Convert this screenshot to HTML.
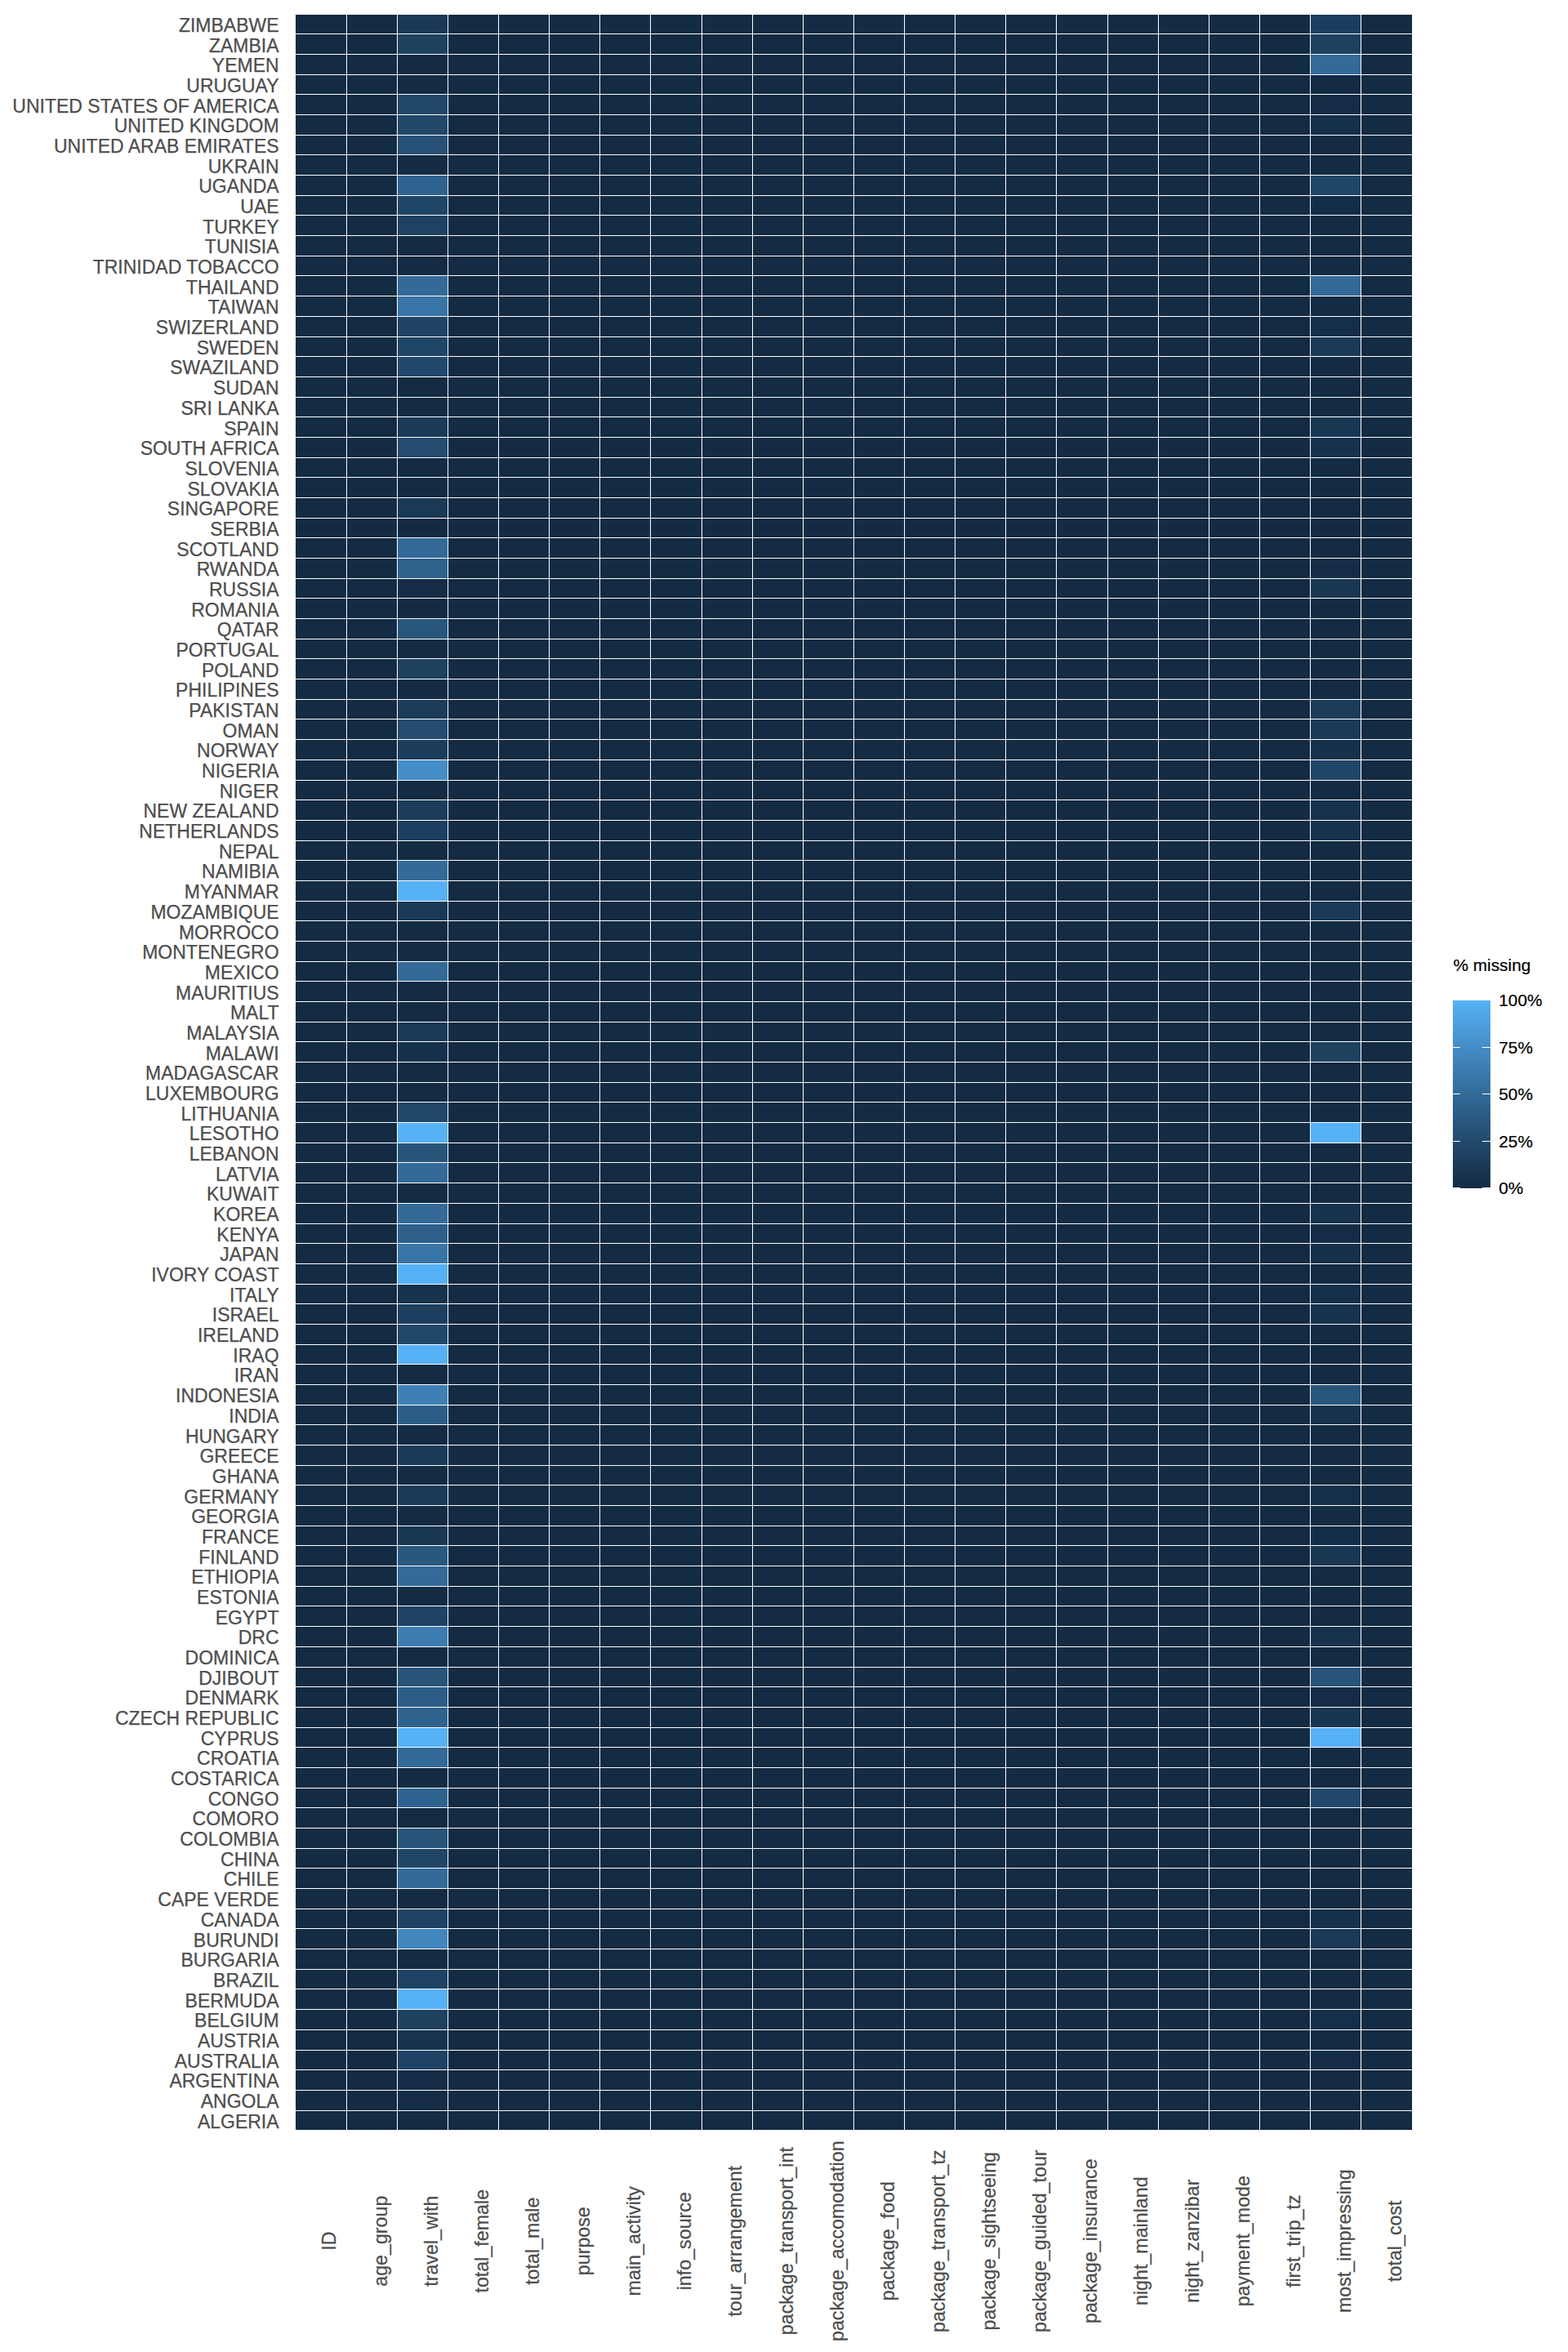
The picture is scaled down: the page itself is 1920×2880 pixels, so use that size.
<!DOCTYPE html>
<html lang="en"><head><meta charset="utf-8"><title>% missing by country</title>
<style>html,body{margin:0;padding:0;background:#fff}svg{display:block}text{font-family:"Liberation Sans",Arial,sans-serif}.y{font-size:23px;fill:#4D4D4D;text-anchor:end;stroke:#4D4D4D;stroke-width:.25px}.x{font-size:23.25px;fill:#4D4D4D;text-anchor:middle;stroke:#4D4D4D;stroke-width:.25px}.l{font-size:20.8px;fill:#000;stroke:#000;stroke-width:.2px}</style></head><body>
<svg width="1920" height="2880" viewBox="0 0 1920 2880">
<rect width="1920" height="2880" fill="#fff"/>
<rect x="362" y="18" width="1367" height="2590" fill="#132B43"/>
<g>
<rect x="486" y="18" width="62" height="23" fill="#1A3855"/>
<rect x="1604" y="18" width="62" height="23" fill="#1D3F5F"/>
<rect x="486" y="41" width="62" height="25" fill="#1E4160"/>
<rect x="1604" y="41" width="62" height="25" fill="#1E4160"/>
<rect x="1604" y="66" width="62" height="25" fill="#336A98"/>
<rect x="486" y="115" width="62" height="25" fill="#214769"/>
<rect x="1604" y="115" width="62" height="25" fill="#142C45"/>
<rect x="486" y="140" width="62" height="25" fill="#22486A"/>
<rect x="1604" y="140" width="62" height="25" fill="#153049"/>
<rect x="486" y="165" width="62" height="24" fill="#265075"/>
<rect x="486" y="214" width="62" height="25" fill="#2F638F"/>
<rect x="1604" y="214" width="62" height="25" fill="#204667"/>
<rect x="486" y="239" width="62" height="24" fill="#204667"/>
<rect x="1604" y="239" width="62" height="24" fill="#142D46"/>
<rect x="486" y="263" width="62" height="25" fill="#1F4262"/>
<rect x="486" y="337" width="62" height="25" fill="#336A98"/>
<rect x="1604" y="337" width="62" height="25" fill="#336A98"/>
<rect x="486" y="362" width="62" height="25" fill="#3874A5"/>
<rect x="486" y="387" width="62" height="25" fill="#204465"/>
<rect x="1604" y="387" width="62" height="25" fill="#152F48"/>
<rect x="486" y="412" width="62" height="24" fill="#204667"/>
<rect x="1604" y="412" width="62" height="24" fill="#1B3A58"/>
<rect x="486" y="436" width="62" height="25" fill="#22496C"/>
<rect x="486" y="510" width="62" height="25" fill="#1B3A58"/>
<rect x="1604" y="510" width="62" height="25" fill="#193753"/>
<rect x="486" y="535" width="62" height="25" fill="#244C6F"/>
<rect x="1604" y="535" width="62" height="25" fill="#17324D"/>
<rect x="486" y="609" width="62" height="25" fill="#1A3956"/>
<rect x="486" y="658" width="62" height="25" fill="#336A98"/>
<rect x="486" y="683" width="62" height="25" fill="#2E618B"/>
<rect x="1604" y="683" width="62" height="25" fill="#142C45"/>
<rect x="486" y="708" width="62" height="24" fill="#142C45"/>
<rect x="1604" y="708" width="62" height="24" fill="#193753"/>
<rect x="486" y="757" width="62" height="25" fill="#29567D"/>
<rect x="486" y="806" width="62" height="25" fill="#1E4160"/>
<rect x="486" y="856" width="62" height="24" fill="#1B3C5A"/>
<rect x="1604" y="856" width="62" height="24" fill="#1B3C5A"/>
<rect x="486" y="880" width="62" height="25" fill="#244D71"/>
<rect x="1604" y="880" width="62" height="25" fill="#1A3956"/>
<rect x="486" y="905" width="62" height="25" fill="#1B3C5A"/>
<rect x="1604" y="905" width="62" height="25" fill="#16314B"/>
<rect x="486" y="930" width="62" height="25" fill="#448DC6"/>
<rect x="1604" y="930" width="62" height="25" fill="#204667"/>
<rect x="486" y="979" width="62" height="25" fill="#1B3C5A"/>
<rect x="1604" y="979" width="62" height="25" fill="#17324D"/>
<rect x="486" y="1004" width="62" height="25" fill="#1D3F5F"/>
<rect x="1604" y="1004" width="62" height="25" fill="#17324D"/>
<rect x="486" y="1053" width="62" height="25" fill="#336A98"/>
<rect x="486" y="1078" width="62" height="25" fill="#56B1F7"/>
<rect x="486" y="1103" width="62" height="24" fill="#1A3956"/>
<rect x="1604" y="1103" width="62" height="24" fill="#1A3956"/>
<rect x="486" y="1177" width="62" height="24" fill="#336A98"/>
<rect x="486" y="1251" width="62" height="24" fill="#1B3A58"/>
<rect x="486" y="1275" width="62" height="25" fill="#16314B"/>
<rect x="1604" y="1275" width="62" height="25" fill="#1E4160"/>
<rect x="486" y="1349" width="62" height="25" fill="#214769"/>
<rect x="486" y="1374" width="62" height="25" fill="#56B1F7"/>
<rect x="1604" y="1374" width="62" height="25" fill="#56B1F7"/>
<rect x="486" y="1399" width="62" height="24" fill="#28547A"/>
<rect x="486" y="1423" width="62" height="25" fill="#336A98"/>
<rect x="486" y="1473" width="62" height="25" fill="#336A98"/>
<rect x="1604" y="1473" width="62" height="25" fill="#17334E"/>
<rect x="486" y="1498" width="62" height="24" fill="#2D5F8A"/>
<rect x="1604" y="1498" width="62" height="24" fill="#142C45"/>
<rect x="486" y="1522" width="62" height="25" fill="#3874A5"/>
<rect x="1604" y="1522" width="62" height="25" fill="#153049"/>
<rect x="486" y="1547" width="62" height="25" fill="#56B1F7"/>
<rect x="486" y="1572" width="62" height="24" fill="#17334E"/>
<rect x="1604" y="1572" width="62" height="24" fill="#153049"/>
<rect x="486" y="1596" width="62" height="25" fill="#1D3F5F"/>
<rect x="1604" y="1596" width="62" height="25" fill="#17324D"/>
<rect x="486" y="1621" width="62" height="25" fill="#214769"/>
<rect x="486" y="1646" width="62" height="24" fill="#56B1F7"/>
<rect x="486" y="1695" width="62" height="25" fill="#3E80B5"/>
<rect x="1604" y="1695" width="62" height="25" fill="#28557B"/>
<rect x="486" y="1720" width="62" height="24" fill="#2C5D86"/>
<rect x="1604" y="1720" width="62" height="24" fill="#17324D"/>
<rect x="486" y="1769" width="62" height="25" fill="#1B3A58"/>
<rect x="486" y="1818" width="62" height="25" fill="#1B3A58"/>
<rect x="1604" y="1818" width="62" height="25" fill="#152F48"/>
<rect x="486" y="1868" width="62" height="24" fill="#193753"/>
<rect x="1604" y="1868" width="62" height="24" fill="#142D46"/>
<rect x="486" y="1892" width="62" height="25" fill="#29587F"/>
<rect x="1604" y="1892" width="62" height="25" fill="#193753"/>
<rect x="486" y="1917" width="62" height="25" fill="#336A98"/>
<rect x="486" y="1966" width="62" height="25" fill="#1F4364"/>
<rect x="486" y="1991" width="62" height="25" fill="#3C7CB0"/>
<rect x="1604" y="1991" width="62" height="25" fill="#17324D"/>
<rect x="486" y="2041" width="62" height="24" fill="#28547A"/>
<rect x="1604" y="2041" width="62" height="24" fill="#28547A"/>
<rect x="486" y="2065" width="62" height="25" fill="#2C5D86"/>
<rect x="1604" y="2065" width="62" height="25" fill="#142C45"/>
<rect x="486" y="2090" width="62" height="25" fill="#2F628D"/>
<rect x="1604" y="2090" width="62" height="25" fill="#183651"/>
<rect x="486" y="2115" width="62" height="24" fill="#56B1F7"/>
<rect x="1604" y="2115" width="62" height="24" fill="#56B1F7"/>
<rect x="486" y="2139" width="62" height="25" fill="#326996"/>
<rect x="486" y="2189" width="62" height="24" fill="#2F638F"/>
<rect x="1604" y="2189" width="62" height="24" fill="#22496C"/>
<rect x="486" y="2238" width="62" height="25" fill="#28547A"/>
<rect x="486" y="2263" width="62" height="24" fill="#204667"/>
<rect x="486" y="2287" width="62" height="25" fill="#336A98"/>
<rect x="486" y="2337" width="62" height="24" fill="#1F4262"/>
<rect x="1604" y="2337" width="62" height="24" fill="#153049"/>
<rect x="486" y="2361" width="62" height="25" fill="#4186BD"/>
<rect x="1604" y="2361" width="62" height="25" fill="#1B3A58"/>
<rect x="486" y="2411" width="62" height="24" fill="#1F4364"/>
<rect x="486" y="2435" width="62" height="25" fill="#56B1F7"/>
<rect x="486" y="2460" width="62" height="25" fill="#1E4160"/>
<rect x="1604" y="2460" width="62" height="25" fill="#152F48"/>
<rect x="486" y="2485" width="62" height="25" fill="#17334E"/>
<rect x="486" y="2510" width="62" height="24" fill="#1F4364"/>
<rect x="1604" y="2510" width="62" height="24" fill="#142C45"/>
<rect x="486" y="2534" width="62" height="25" fill="#142C45"/>
<rect x="486" y="2559" width="62" height="25" fill="#142C45"/>
</g>
<path d="M424.5 18V2608M486.5 18V2608M548.5 18V2608M610.5 18V2608M672.5 18V2608M734.5 18V2608M796.5 18V2608M859.5 18V2608M921.5 18V2608M983.5 18V2608M1045.5 18V2608M1107.5 18V2608M1169.5 18V2608M1231.5 18V2608M1293.5 18V2608M1356.5 18V2608M1418.5 18V2608M1480.5 18V2608M1542.5 18V2608M1604.5 18V2608M1666.5 18V2608M362 41.5H1729M362 66.5H1729M362 91.5H1729M362 115.5H1729M362 140.5H1729M362 165.5H1729M362 189.5H1729M362 214.5H1729M362 239.5H1729M362 263.5H1729M362 288.5H1729M362 313.5H1729M362 337.5H1729M362 362.5H1729M362 387.5H1729M362 412.5H1729M362 436.5H1729M362 461.5H1729M362 486.5H1729M362 510.5H1729M362 535.5H1729M362 560.5H1729M362 584.5H1729M362 609.5H1729M362 634.5H1729M362 658.5H1729M362 683.5H1729M362 708.5H1729M362 732.5H1729M362 757.5H1729M362 782.5H1729M362 806.5H1729M362 831.5H1729M362 856.5H1729M362 880.5H1729M362 905.5H1729M362 930.5H1729M362 955.5H1729M362 979.5H1729M362 1004.5H1729M362 1029.5H1729M362 1053.5H1729M362 1078.5H1729M362 1103.5H1729M362 1127.5H1729M362 1152.5H1729M362 1177.5H1729M362 1201.5H1729M362 1226.5H1729M362 1251.5H1729M362 1275.5H1729M362 1300.5H1729M362 1325.5H1729M362 1349.5H1729M362 1374.5H1729M362 1399.5H1729M362 1423.5H1729M362 1448.5H1729M362 1473.5H1729M362 1498.5H1729M362 1522.5H1729M362 1547.5H1729M362 1572.5H1729M362 1596.5H1729M362 1621.5H1729M362 1646.5H1729M362 1670.5H1729M362 1695.5H1729M362 1720.5H1729M362 1744.5H1729M362 1769.5H1729M362 1794.5H1729M362 1818.5H1729M362 1843.5H1729M362 1868.5H1729M362 1892.5H1729M362 1917.5H1729M362 1942.5H1729M362 1966.5H1729M362 1991.5H1729M362 2016.5H1729M362 2041.5H1729M362 2065.5H1729M362 2090.5H1729M362 2115.5H1729M362 2139.5H1729M362 2164.5H1729M362 2189.5H1729M362 2213.5H1729M362 2238.5H1729M362 2263.5H1729M362 2287.5H1729M362 2312.5H1729M362 2337.5H1729M362 2361.5H1729M362 2386.5H1729M362 2411.5H1729M362 2435.5H1729M362 2460.5H1729M362 2485.5H1729M362 2510.5H1729M362 2534.5H1729M362 2559.5H1729M362 2584.5H1729" stroke="#fff" stroke-width="1" fill="none" shape-rendering="crispEdges"/>
<g class="y">
<text x="341.6" y="38.9">ZIMBABWE</text>
<text x="341.6" y="63.58">ZAMBIA</text>
<text x="341.6" y="88.26">YEMEN</text>
<text x="341.6" y="112.94">URUGUAY</text>
<text x="341.6" y="137.62">UNITED STATES OF AMERICA</text>
<text x="341.6" y="162.3">UNITED KINGDOM</text>
<text x="341.6" y="186.98">UNITED ARAB EMIRATES</text>
<text x="341.6" y="211.66">UKRAIN</text>
<text x="341.6" y="236.34">UGANDA</text>
<text x="341.6" y="261.02">UAE</text>
<text x="341.6" y="285.7">TURKEY</text>
<text x="341.6" y="310.38">TUNISIA</text>
<text x="341.6" y="335.06">TRINIDAD TOBACCO</text>
<text x="341.6" y="359.74">THAILAND</text>
<text x="341.6" y="384.42">TAIWAN</text>
<text x="341.6" y="409.1">SWIZERLAND</text>
<text x="341.6" y="433.78">SWEDEN</text>
<text x="341.6" y="458.46">SWAZILAND</text>
<text x="341.6" y="483.14">SUDAN</text>
<text x="341.6" y="507.82">SRI LANKA</text>
<text x="341.6" y="532.5">SPAIN</text>
<text x="341.6" y="557.18">SOUTH AFRICA</text>
<text x="341.6" y="581.86">SLOVENIA</text>
<text x="341.6" y="606.54">SLOVAKIA</text>
<text x="341.6" y="631.22">SINGAPORE</text>
<text x="341.6" y="655.9">SERBIA</text>
<text x="341.6" y="680.58">SCOTLAND</text>
<text x="341.6" y="705.26">RWANDA</text>
<text x="341.6" y="729.94">RUSSIA</text>
<text x="341.6" y="754.62">ROMANIA</text>
<text x="341.6" y="779.3">QATAR</text>
<text x="341.6" y="803.98">PORTUGAL</text>
<text x="341.6" y="828.66">POLAND</text>
<text x="341.6" y="853.34">PHILIPINES</text>
<text x="341.6" y="878.02">PAKISTAN</text>
<text x="341.6" y="902.7">OMAN</text>
<text x="341.6" y="927.38">NORWAY</text>
<text x="341.6" y="952.06">NIGERIA</text>
<text x="341.6" y="976.74">NIGER</text>
<text x="341.6" y="1001.42">NEW ZEALAND</text>
<text x="341.6" y="1026.1">NETHERLANDS</text>
<text x="341.6" y="1050.78">NEPAL</text>
<text x="341.6" y="1075.46">NAMIBIA</text>
<text x="341.6" y="1100.14">MYANMAR</text>
<text x="341.6" y="1124.82">MOZAMBIQUE</text>
<text x="341.6" y="1149.5">MORROCO</text>
<text x="341.6" y="1174.18">MONTENEGRO</text>
<text x="341.6" y="1198.86">MEXICO</text>
<text x="341.6" y="1223.54">MAURITIUS</text>
<text x="341.6" y="1248.22">MALT</text>
<text x="341.6" y="1272.9">MALAYSIA</text>
<text x="341.6" y="1297.58">MALAWI</text>
<text x="341.6" y="1322.26">MADAGASCAR</text>
<text x="341.6" y="1346.94">LUXEMBOURG</text>
<text x="341.6" y="1371.62">LITHUANIA</text>
<text x="341.6" y="1396.3">LESOTHO</text>
<text x="341.6" y="1420.98">LEBANON</text>
<text x="341.6" y="1445.66">LATVIA</text>
<text x="341.6" y="1470.34">KUWAIT</text>
<text x="341.6" y="1495.02">KOREA</text>
<text x="341.6" y="1519.7">KENYA</text>
<text x="341.6" y="1544.38">JAPAN</text>
<text x="341.6" y="1569.06">IVORY COAST</text>
<text x="341.6" y="1593.74">ITALY</text>
<text x="341.6" y="1618.42">ISRAEL</text>
<text x="341.6" y="1643.1">IRELAND</text>
<text x="341.6" y="1667.78">IRAQ</text>
<text x="341.6" y="1692.46">IRAN</text>
<text x="341.6" y="1717.14">INDONESIA</text>
<text x="341.6" y="1741.82">INDIA</text>
<text x="341.6" y="1766.5">HUNGARY</text>
<text x="341.6" y="1791.18">GREECE</text>
<text x="341.6" y="1815.86">GHANA</text>
<text x="341.6" y="1840.54">GERMANY</text>
<text x="341.6" y="1865.22">GEORGIA</text>
<text x="341.6" y="1889.9">FRANCE</text>
<text x="341.6" y="1914.58">FINLAND</text>
<text x="341.6" y="1939.26">ETHIOPIA</text>
<text x="341.6" y="1963.94">ESTONIA</text>
<text x="341.6" y="1988.62">EGYPT</text>
<text x="341.6" y="2013.3">DRC</text>
<text x="341.6" y="2037.98">DOMINICA</text>
<text x="341.6" y="2062.66">DJIBOUT</text>
<text x="341.6" y="2087.34">DENMARK</text>
<text x="341.6" y="2112.02">CZECH REPUBLIC</text>
<text x="341.6" y="2136.7">CYPRUS</text>
<text x="341.6" y="2161.38">CROATIA</text>
<text x="341.6" y="2186.06">COSTARICA</text>
<text x="341.6" y="2210.74">CONGO</text>
<text x="341.6" y="2235.42">COMORO</text>
<text x="341.6" y="2260.1">COLOMBIA</text>
<text x="341.6" y="2284.78">CHINA</text>
<text x="341.6" y="2309.46">CHILE</text>
<text x="341.6" y="2334.14">CAPE VERDE</text>
<text x="341.6" y="2358.82">CANADA</text>
<text x="341.6" y="2383.5">BURUNDI</text>
<text x="341.6" y="2408.18">BURGARIA</text>
<text x="341.6" y="2432.86">BRAZIL</text>
<text x="341.6" y="2457.54">BERMUDA</text>
<text x="341.6" y="2482.22">BELGIUM</text>
<text x="341.6" y="2506.9">AUSTRIA</text>
<text x="341.6" y="2531.58">AUSTRALIA</text>
<text x="341.6" y="2556.26">ARGENTINA</text>
<text x="341.6" y="2580.94">ANGOLA</text>
<text x="341.6" y="2605.62">ALGERIA</text>
</g>
<g class="x">
<text transform="translate(411.38 2744.2) rotate(-90)">ID</text>
<text transform="translate(473.51 2744.2) rotate(-90)">age_group</text>
<text transform="translate(535.64 2744.2) rotate(-90)">travel_with</text>
<text transform="translate(597.77 2744.2) rotate(-90)">total_female</text>
<text transform="translate(659.9 2744.2) rotate(-90)">total_male</text>
<text transform="translate(722.03 2744.2) rotate(-90)">purpose</text>
<text transform="translate(784.16 2744.2) rotate(-90)">main_activity</text>
<text transform="translate(846.29 2744.2) rotate(-90)">info_source</text>
<text transform="translate(908.42 2744.2) rotate(-90)">tour_arrangement</text>
<text transform="translate(970.55 2744.2) rotate(-90)">package_transport_int</text>
<text transform="translate(1032.68 2744.2) rotate(-90)">package_accomodation</text>
<text transform="translate(1094.81 2744.2) rotate(-90)">package_food</text>
<text transform="translate(1156.94 2744.2) rotate(-90)">package_transport_tz</text>
<text transform="translate(1219.08 2744.2) rotate(-90)">package_sightseeing</text>
<text transform="translate(1281.2 2744.2) rotate(-90)">package_guided_tour</text>
<text transform="translate(1343.33 2744.2) rotate(-90)">package_insurance</text>
<text transform="translate(1405.46 2744.2) rotate(-90)">night_mainland</text>
<text transform="translate(1467.6 2744.2) rotate(-90)">night_zanzibar</text>
<text transform="translate(1529.72 2744.2) rotate(-90)">payment_mode</text>
<text transform="translate(1591.86 2744.2) rotate(-90)">first_trip_tz</text>
<text transform="translate(1653.98 2744.2) rotate(-90)">most_impressing</text>
<text transform="translate(1716.12 2744.2) rotate(-90)">total_cost</text>
</g>
<defs><linearGradient id="g" x1="0" y1="0" x2="0" y2="1"><stop offset="0%" stop-color="#56B1F7"/><stop offset="5%" stop-color="#52AAED"/><stop offset="10%" stop-color="#4FA2E3"/><stop offset="15%" stop-color="#4B9BDA"/><stop offset="20%" stop-color="#4894D0"/><stop offset="25%" stop-color="#448DC6"/><stop offset="30%" stop-color="#4186BD"/><stop offset="35%" stop-color="#3D7FB4"/><stop offset="40%" stop-color="#3A78AA"/><stop offset="45%" stop-color="#3671A1"/><stop offset="50%" stop-color="#336A98"/><stop offset="55%" stop-color="#2F638F"/><stop offset="60%" stop-color="#2C5D86"/><stop offset="65%" stop-color="#29567D"/><stop offset="70%" stop-color="#265075"/><stop offset="75%" stop-color="#22496C"/><stop offset="80%" stop-color="#1F4364"/><stop offset="85%" stop-color="#1C3D5B"/><stop offset="90%" stop-color="#193753"/><stop offset="95%" stop-color="#16314B"/><stop offset="100%" stop-color="#132B43"/></linearGradient></defs>
<rect x="1779" y="1225" width="46" height="230" fill="url(#g)"/>
<path d="M1779 1282.5h9M1815 1282.5h10M1779 1339.5h9M1815 1339.5h10M1779 1397.5h9M1815 1397.5h10M1779 1454.5h9M1815 1454.5h10" stroke="#fff" stroke-width="1" fill="none" shape-rendering="crispEdges"/>
<g class="l"><text x="1779.5" y="1188.7">% missing</text>
<text x="1835.3" y="1232.4">100%</text>
<text x="1835.3" y="1289.9">75%</text>
<text x="1835.3" y="1347.4">50%</text>
<text x="1835.3" y="1404.9">25%</text>
<text x="1835.3" y="1462.4">0%</text>
</g>
</svg></body></html>
